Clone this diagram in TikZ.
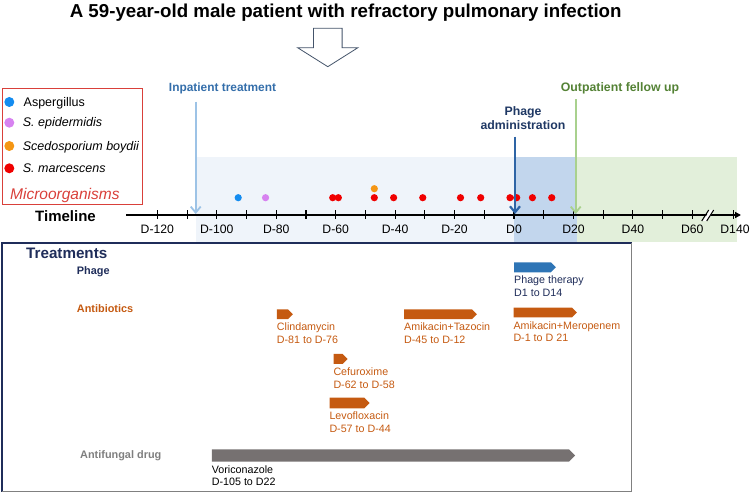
\documentclass[tikz,border=0pt]{standalone}
\usepackage{fontspec}
\setmainfont{Liberation Sans}
\usepackage{xcolor}
\usepackage{tikz}
\usetikzlibrary{arrows.meta}
\usetikzlibrary{shapes.symbols}
\definecolor{navy}{RGB}{31,45,90}
\definecolor{adminblue}{RGB}{31,56,100}
\definecolor{inblue}{RGB}{52,110,170}
\definecolor{lblue}{RGB}{157,195,230}
\definecolor{pblue}{RGB}{46,117,182}
\definecolor{darrow}{RGB}{46,100,165}
\definecolor{lgreen}{RGB}{169,209,142}
\definecolor{dgreen}{RGB}{84,130,53}
\definecolor{abrown}{RGB}{197,90,17}
\definecolor{fgray}{RGB}{118,113,113}
\definecolor{tgray}{RGB}{127,127,127}
\definecolor{legred}{RGB}{217,64,58}
\definecolor{aspblue}{RGB}{20,140,240}
\definecolor{epipurple}{RGB}{215,130,240}
\definecolor{scedorange}{RGB}{245,150,20}
\definecolor{marcred}{RGB}{240,0,0}
\definecolor{shadeblue}{RGB}{239,244,250}
\definecolor{midblue}{RGB}{194,214,237}
\definecolor{shadegreen}{RGB}{226,239,218}
\definecolor{hollow}{RGB}{68,84,106}
\tikzset{
  VPfeil/.style={draw=#1,line width=1.8pt,-{Straight Barb[length=6pt,width=10pt]}}, % Ereignispfeile
  Balken/.style={signal,signal to=east,fill=#1,draw=none,inner sep=0pt,anchor=west}, % Therapiebalken
  BText/.style={anchor=north west,inner sep=0pt,align=left,text=#1}, % Text unter Balken
  Tick/.style={line width=1.1pt}
}
\newcommand{\fs}[1]{\fontsize{#1}{12.5}\selectfont}

\begin{document}
\begin{tikzpicture}[x=1pt,y=-1pt,font=\fs{10.7},
>=latex % Pfeilspitzen
]
\useasboundingbox (0,0) rectangle (750,494);

%Hintergrund
\fill[shadeblue] (196,157.3) rectangle (514,242.3);
\fill[midblue] (514,157.3) rectangle (576.7,242.3);
\fill[shadegreen] (576.7,157.3) rectangle (736.7,242.3);

%Titel
\node[anchor=base,inner sep=0pt,font=\bfseries\fontsize{18.7}{20}\selectfont] (title) at (345.7,17.5)
  {A 59-year-old male patient with refractory pulmonary infection};
\draw[hollow,line width=0.8pt,fill=white] (313.4,28.3) -- (342.1,28.3) -- (342.1,47.7) -- (357.9,47.7)
  -- (327.8,66.7) -- (297.6,47.7) -- (313.4,47.7) -- cycle;

%Legende
\draw[legred,line width=0.8pt] (2,88) rectangle (142,204);
\fill[aspblue] (9.3,102) circle (5pt);
\fill[epipurple] (9.3,122.7) circle (5pt);
\fill[scedorange] (9.3,146) circle (5pt);
\fill[marcred] (9.3,168.3) circle (5pt);
\node[anchor=base west,inner sep=0pt,font=\fs{12.5}] (asp) at (23.5,106.8) {Aspergillus};
\node[anchor=base west,inner sep=0pt,font=\fs{12.5}\itshape] (epi) at (22.7,126.7) {S. epidermidis};
\node[anchor=base west,inner sep=0pt,font=\fs{12.5}\itshape] (sced) at (22.7,150.7) {Scedosporium boydii};
\node[anchor=base west,inner sep=0pt,font=\fs{12.5}\itshape] (marc) at (22.7,172.7) {S. marcescens};
\node[anchor=base west,inner sep=0pt,font=\fs{15.5}\itshape,text=legred] (micro) at (10,199.3) {Microorganisms};

%Zeitachse
\node[anchor=base west,inner sep=0pt,font=\fs{15}\bfseries] (tl) at (35,221.7) {Timeline};
\coordinate (axstart) at (126,215);
\coordinate (axend) at (741,215);
\draw[line width=1.3pt,-{Triangle[length=6pt,width=6pt]}] (axstart) -- (axend);
\foreach \d in {-120,-110,...,60}
  \draw[Tick] (514+2.972*\d,210.5) -- (514+2.972*\d,219.5);
\draw[Tick] (733.3,210.5) -- (733.3,219.5);
\fill[white] (703,221) -- (710,210) -- (714,210) -- (707,221) -- cycle;
\draw[line width=1pt] (701.7,221) -- (708.7,210);
\draw[line width=1pt] (706.7,221) -- (713.7,210);
\foreach \d in {-120,-100,...,60}
  \node[anchor=base,inner sep=0pt,font=\fs{12.2}] (lbl\d) at (514+2.972*\d,234) {D\d};
\node[anchor=base,inner sep=0pt,font=\fs{12.2}] (lbl140) at (735,234) {D140};

%Befunde
\fill[aspblue] (514-2.972*92.8,197.7) circle (3.6pt);
\fill[epipurple] (514-2.972*83.6,197.7) circle (3.6pt);
\fill[scedorange] (514-2.972*47,188.7) circle (3.6pt);
\foreach \d in {-61,-59.1,-47,-40.5,-30.7,-18,-11.2,-1.35,0.9,6.2,12.7}
  \fill[marcred] (514+2.972*\d,197.7) circle (3.6pt);

%Ereignisse
\node[anchor=base,inner sep=0pt,font=\fs{11.9}\bfseries,text=inblue] (inpat) at (222.5,91.7) {Inpatient treatment};
\node[anchor=north,inner sep=0pt,align=center,font=\fontsize{12.3}{14.3}\selectfont\bfseries,text=adminblue] (admin) at (523,106)
  {Phage\\administration};
\node[anchor=base,inner sep=0pt,font=\fs{12.3}\bfseries,text=dgreen] (outpat) at (620,91.7) {Outpatient fellow up};
\coordinate (inpat-top) at (195.7,101.7);
\coordinate (inpat-tip) at (195.7,214);
\coordinate (admin-top) at (515,136.7);
\coordinate (admin-tip) at (515,214);
\coordinate (outpat-top) at (575.7,99.3);
\coordinate (outpat-tip) at (575.7,214);
\draw[VPfeil=lblue] (inpat-top) -- (inpat-tip);
\draw[VPfeil=darrow,line width=2.2pt] (admin-top) -- (admin-tip);
\draw[VPfeil=lgreen] (outpat-top) -- (outpat-tip);

%Therapien
\draw[navy,line width=1.2pt] (631.7,243) -- (2,243) -- (2,491.7);
\draw[gray,line width=1.2pt] (2,491.7) -- (631.7,491.7) -- (631.7,243);
\node[anchor=base west,inner sep=0pt,font=\fs{15.2}\bfseries,text=navy] (treat) at (26,259) {Treatments};
\node[anchor=base west,inner sep=0pt,font=\fs{10.9}\bfseries,text=navy] (phage) at (76.7,275) {Phage};
\node[anchor=base west,inner sep=0pt,font=\fs{10.9}\bfseries,text=abrown] (abx) at (76.7,312.7) {Antibiotics};
\node[anchor=base west,inner sep=0pt,font=\fs{10.9}\bfseries,text=tgray] (afd) at (80,458.3) {Antifungal drug};

\node[Balken=pblue,minimum width=41.7pt,minimum height=10pt] (phbar) at (514,267.3) {};
\node[Balken=abrown,minimum width=16pt,minimum height=9.7pt] (clin) at (276.7,314.2) {};
\node[Balken=abrown,minimum width=72.7pt,minimum height=9.7pt] (amtaz) at (404,314.2) {};
\node[Balken=abrown,minimum width=63.4pt,minimum height=9.7pt] (ammer) at (513.3,312.5) {};
\node[Balken=abrown,minimum width=14pt,minimum height=10pt] (cefu) at (333.3,359) {};
\node[Balken=abrown,minimum width=40pt,minimum height=10.6pt] (levo) at (329.3,403) {};
\node[Balken=fgray,minimum width=363.3pt,minimum height=12.4pt] (vori) at (211.7,455.5) {};

\node[BText=navy] (phtxt) at ([yshift=-3.5pt]phbar.south west) {Phage therapy\\D1 to D14};
\node[BText=abrown] (clintxt) at ([yshift=-3.5pt]clin.south west) {Clindamycin\\D-81 to D-76};
\node[BText=abrown] (amtaztxt) at ([yshift=-3.5pt]amtaz.south west) {Amikacin+Tazocin\\D-45 to D-12};
\node[BText=abrown] (ammertxt) at ([yshift=-3.5pt]ammer.south west) {Amikacin+Meropenem\\D-1 to D 21};
\node[BText=abrown] (cefutxt) at ([yshift=-3.5pt]cefu.south west) {Cefuroxime\\D-62 to D-58};
\node[BText=abrown] (levotxt) at ([yshift=-3.5pt]levo.south west) {Levofloxacin\\D-57 to D-44};
\node[BText=black] (voritxt) at ([yshift=-3.5pt]vori.south west) {Voriconazole\\D-105 to D22};

\end{tikzpicture}
\end{document}
